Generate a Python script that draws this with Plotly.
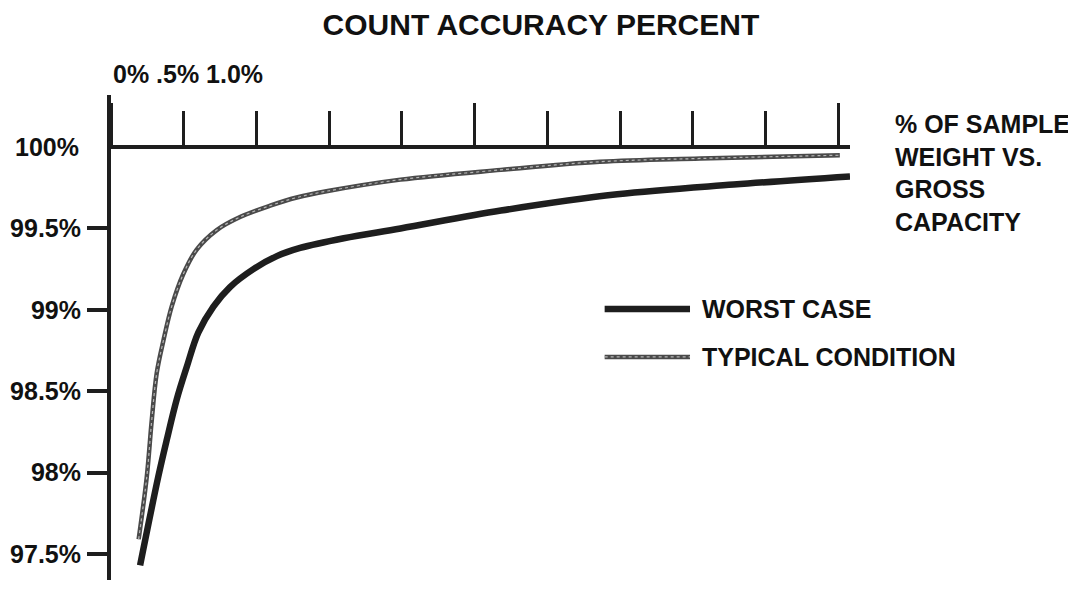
import plotly.graph_objects as go

# % of sample weight vs gross capacity
worst_x = [0.20, 0.325, 0.383, 0.452, 0.521, 0.600, 0.704, 0.818, 0.979, 1.14, 1.30, 1.60, 1.99, 2.68, 3.48, 4.28, 5.08]
worst_y = [97.43, 97.975, 98.20, 98.45, 98.65, 98.86, 99.02, 99.14, 99.25, 99.33, 99.38, 99.44, 99.50, 99.61, 99.71, 99.77, 99.82]

typical_x = [0.19, 0.246, 0.280, 0.314, 0.360, 0.417, 0.497, 0.589, 0.727, 0.887, 1.094, 1.277, 1.49, 1.99, 2.68, 3.36, 4.05, 5.01]
typical_y = [97.59, 97.975, 98.32, 98.61, 98.81, 99.02, 99.22, 99.37, 99.49, 99.57, 99.64, 99.69, 99.73, 99.80, 99.86, 99.91, 99.93, 99.95]

y_ticks = [97.5, 98, 98.5, 99, 99.5]
y_labels = ["97.5%", "98%", "98.5%", "99%", "99.5%"]
top_labels = "0% .5% 1.0%"
series_names = ["WORST CASE", "TYPICAL CONDITION"]

x_range = [0, 5.08]
y_range = [97.34, 100.32]
ink = "#1e1e1e"
font_family = "Liberation Sans, Arial, sans-serif"

fig = go.Figure()

fig.add_trace(go.Scatter(
    x=typical_x, y=typical_y, mode="lines", line_shape="spline",
    line=dict(color="#4a4a4a", width=4.5), showlegend=False))
fig.add_trace(go.Scatter(
    x=typical_x, y=typical_y, mode="lines", line_shape="spline",
    line=dict(color="#b5b5b5", width=1.2, dash="dot"), showlegend=False))
fig.add_trace(go.Scatter(
    x=worst_x, y=worst_y, mode="lines", line_shape="spline",
    line=dict(color=ink, width=6.5), showlegend=False))

bold = dict(family=font_family, size=25, color="#111", weight="bold")

x_pos = (100 - y_range[0]) / (y_range[1] - y_range[0])

# page body adds an 8px margin, so the figure is a bit smaller than the window
fig.update_layout(
    width=1068, height=582,
    margin=dict(l=103, r=226, t=87, b=10, autoexpand=False),
    paper_bgcolor="white", plot_bgcolor="white",
    title=dict(text="COUNT ACCURACY PERCENT", x=0.499, y=0.971,
               xanchor="center", yanchor="middle",
               font=dict(family=font_family, size=30, color="#111", weight="bold")),
    xaxis=dict(range=x_range, anchor="free", position=x_pos, side="top",
               showline=True, linecolor=ink, linewidth=4,
               ticks="outside", tick0=0, dtick=2.5, ticklen=42, tickwidth=3,
               tickcolor=ink, showticklabels=False, showgrid=False, zeroline=False,
               minor=dict(ticks="outside", dtick=0.5, tick0=0, ticklen=34,
                          tickwidth=3, tickcolor=ink)),
    yaxis=dict(range=y_range, showline=True, linecolor=ink, linewidth=4,
               tickmode="array", tickvals=y_ticks, ticktext=y_labels,
               ticks="outside", ticklen=20, tickwidth=4, tickcolor=ink,
               ticklabelstandoff=1, tickfont=bold,
               showgrid=False, zeroline=False),
)

annotations = [
    dict(text="100%", x=-0.04, y=100, xref="paper", yref="y",
         xanchor="right", yanchor="middle", showarrow=False, font=bold),
    dict(text=top_labels, x=0, y=1.044, xref="x", yref="paper",
         xanchor="left", yanchor="middle", showarrow=False, font=bold),
    dict(text="% OF SAMPLE<br>WEIGHT VS.<br>GROSS<br>CAPACITY", x=1.058, y=0.84,
         xref="paper", yref="paper", xanchor="left", yanchor="middle",
         align="left", showarrow=False, font=bold),
]

# legend drawn by hand so the sample lines can be long
legend_y = [0.559, 0.460]
legend_styles = [dict(color=ink, width=6.5), dict(color="#4a4a4a", width=4.5)]
shapes = []
for name, ly, style in zip(series_names, legend_y, legend_styles):
    shapes.append(dict(type="line", xref="paper", yref="paper",
                       x0=0.668, x1=0.7835, y0=ly, y1=ly, line=style))
    annotations.append(dict(text=name, x=0.797, y=ly, xref="paper", yref="paper",
                            xanchor="left", yanchor="middle", showarrow=False,
                            font=bold))
shapes.append(dict(type="line", xref="paper", yref="paper",
                   x0=0.668, x1=0.7835, y0=legend_y[1], y1=legend_y[1],
                   line=dict(color="#b5b5b5", width=1.2, dash="dot")))

fig.update_layout(annotations=annotations, shapes=shapes)

fig.write_html("out.html")
